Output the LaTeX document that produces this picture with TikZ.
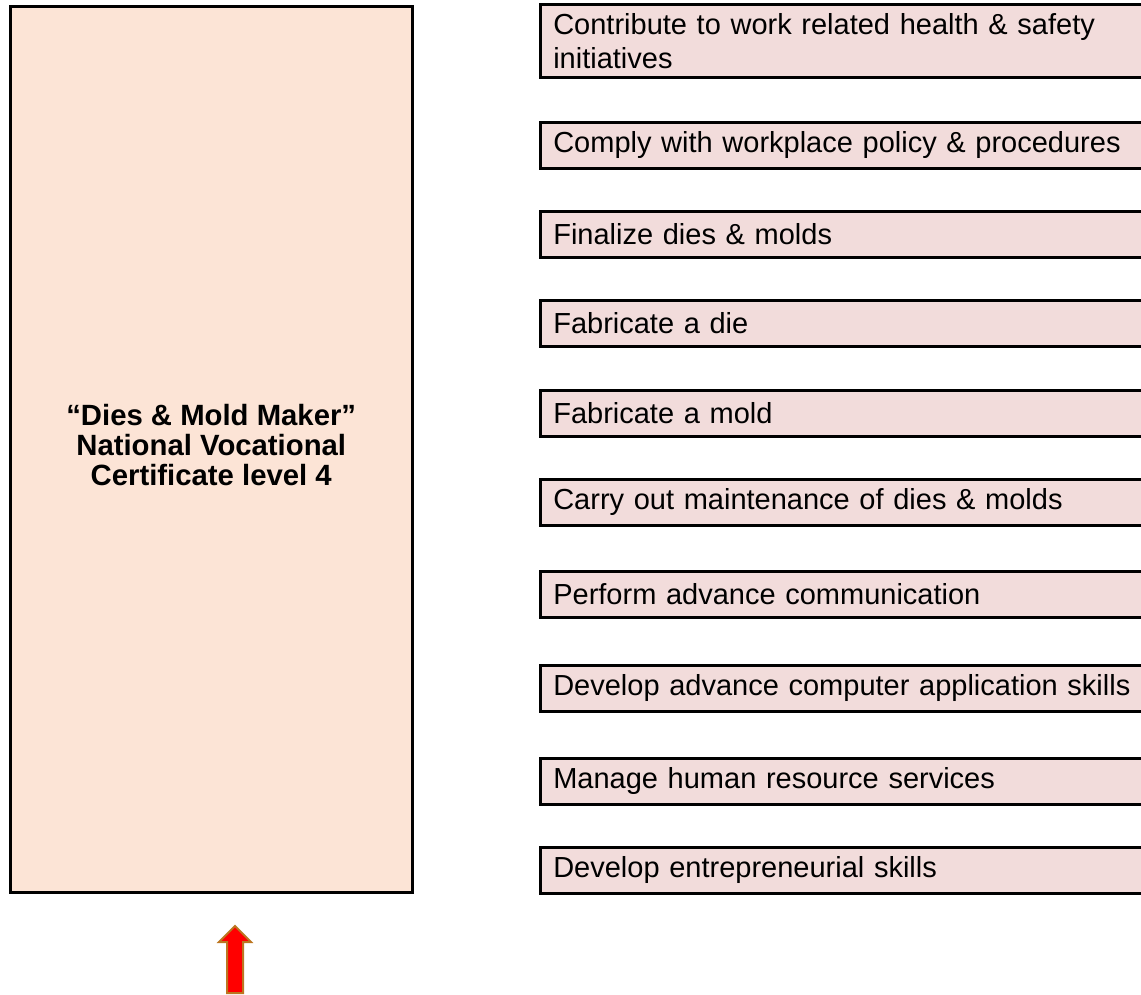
\documentclass[tikz,border=0pt]{standalone}
\usepackage{fontspec}
\setmainfont{Liberation Sans}
\definecolor{peach}{RGB}{252,228,214}
\definecolor{rosebox}{RGB}{242,220,219}
\definecolor{arrowedge}{RGB}{188,118,32}
\begin{document}
\begin{tikzpicture}[x=1pt,y=-1pt,
  bigbox/.style={draw=black,line width=3pt,fill=peach,anchor=north west,
    minimum width=402.5pt,minimum height=886pt,inner sep=0pt,align=center,
    font=\fontsize{29.3}{29.5}\selectfont\bfseries},
  unitbox/.style={draw=black,line width=2.6pt,fill=rosebox,anchor=north west,
    minimum width=620pt,minimum height=46pt,text width=594pt,inner xsep=13pt,inner ysep=0pt,
    align=left,font=\fontsize{29}{34}\selectfont}]
\useasboundingbox (0,0) rectangle (1141,995);
\clip (0,0) rectangle (1141,995);
\node[bigbox] (cert) at (8.5,5) {\raisebox{5pt}{\begin{tabular}{@{}c@{}}“Dies \& Mold Maker”\\National Vocational\\Certificate level 4\end{tabular}}};
\node[unitbox,minimum height=73pt] (u1) at (539,3.5) {Contribute to work related health \& safety\\initiatives};
\node[unitbox] (u2) at (539,121) {Comply with workplace policy \& procedures};
\node[unitbox] (u3) at (539,210) {Finalize dies \& molds};
\node[unitbox] (u4) at (539,299) {Fabricate a die};
\node[unitbox] (u5) at (539,389) {Fabricate a mold};
\node[unitbox] (u6) at (539,478) {Carry out maintenance of dies \& molds};
\node[unitbox] (u7) at (539,570) {Perform advance communication};
\node[unitbox] (u8) at (539,664) {Develop advance computer application skills};
\node[unitbox] (u9) at (539,757) {Manage human resource services};
\node[unitbox] (u10) at (539,846) {Develop entrepreneurial skills};
\draw[draw=arrowedge,fill=red,line width=2pt,line join=miter]
  (235,926) -- (251,942) -- (243,942) -- (243,993) -- (227,993) -- (227,942) -- (219,942) -- cycle;
\end{tikzpicture}
\end{document}
